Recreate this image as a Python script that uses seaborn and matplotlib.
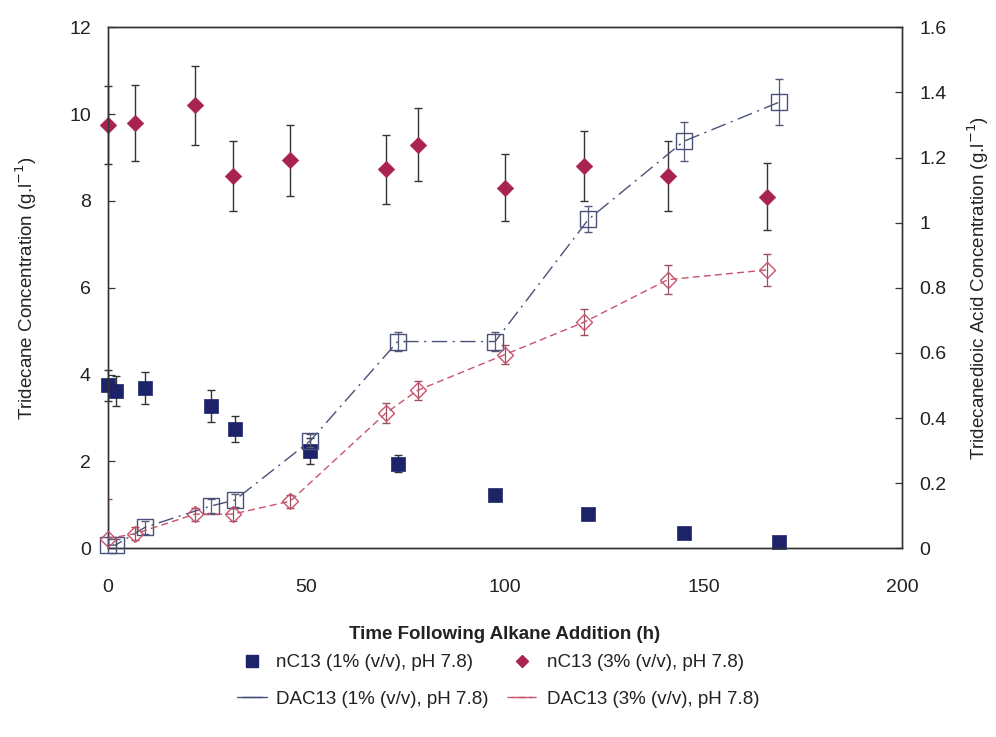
import numpy as np
import pandas as pd
import matplotlib
matplotlib.use("Agg")
import matplotlib.pyplot as plt
from matplotlib.lines import Line2D
from matplotlib.ticker import FuncFormatter
import seaborn as sns

# ---------------- data ----------------
t_1 = [0, 2, 9.5, 26, 32, 51, 73, 97.5, 121, 145, 169]
nc13_1 = [3.75, 3.62, 3.70, 3.28, 2.75, 2.25, 1.95, 1.22, 0.80, 0.35, 0.15]
nc13_1_err = [0.35, 0.35, 0.37, 0.37, 0.30, 0.30, 0.20, 0.05, 0.05, 0.05, 0.05]
dac13_1 = [0.01, 0.01, 0.065, 0.13, 0.148, 0.33, 0.635, 0.635, 1.01, 1.25, 1.37]
dac13_1_err = [0.02, 0.02, 0.02, 0.02, 0.02, 0.02, 0.03, 0.03, 0.04, 0.06, 0.07]

t_3 = [0, 7, 22, 31.5, 46, 70, 78, 100, 120, 141, 166]
nc13_3 = [9.75, 9.80, 10.20, 8.57, 8.94, 8.73, 9.30, 8.30, 8.80, 8.57, 8.10]
nc13_3_err = [0.90, 0.87, 0.90, 0.80, 0.82, 0.80, 0.85, 0.77, 0.80, 0.80, 0.77]
dac13_3 = [0.03, 0.045, 0.105, 0.105, 0.145, 0.415, 0.485, 0.595, 0.695, 0.825, 0.855]
dac13_3_err = [0.12, 0.02, 0.02, 0.02, 0.02, 0.03, 0.03, 0.03, 0.04, 0.045, 0.05]

labels = ["nC13 (1% (v/v), pH 7.8)", "nC13 (3% (v/v), pH 7.8)",
          "DAC13 (1% (v/v), pH 7.8)", "DAC13 (3% (v/v), pH 7.8)"]
x_ticks = [0, 50, 100, 150, 200]
yl_ticks = [0, 2, 4, 6, 8, 10, 12]
yr_ticks = [0, 0.2, 0.4, 0.6, 0.8, 1.0, 1.2, 1.4, 1.6]

# ---------------- style ----------------
sns.set_style("white")
plt.rcParams["font.family"] = ["Liberation Sans", "DejaVu Sans"]
plt.rcParams["axes.linewidth"] = 1.0

navy = "#1c2368"
crimson = "#a8244f"
slate = "#4a5178"
rose = "#c8546c"
txt = "#222222"

fig = plt.figure(figsize=(9.96, 7.37), dpi=100)
ax = fig.add_axes([0.108, 0.256, 0.798, 0.707])
ax2 = ax.twinx()

df1 = pd.DataFrame({"t": t_1, "nc": nc13_1, "dac": dac13_1})
df3 = pd.DataFrame({"t": t_3, "nc": nc13_3, "dac": dac13_3})

# left axis: tridecane
for tt, yy, ee in [(t_1, nc13_1, nc13_1_err), (t_3, nc13_3, nc13_3_err)]:
    eb = ax.errorbar(tt, yy, yerr=ee, fmt="none", ecolor="#333333",
                     elinewidth=1.0, capsize=3, zorder=2)
    for art in eb.lines[1] + eb.lines[2]:
        art.set_clip_on(False)
sns.scatterplot(data=df1, x="t", y="nc", ax=ax, marker="s", s=110,
                color=navy, edgecolor=navy, linewidth=0.5, zorder=3,
                legend=False, clip_on=False)
sns.scatterplot(data=df3, x="t", y="nc", ax=ax, marker="D", s=70,
                color=crimson, edgecolor=crimson, linewidth=0.5, zorder=3,
                legend=False, clip_on=False)

# right axis: tridecanedioic acid
for tt, yy, ee, c in [(t_1, dac13_1, dac13_1_err, "#555a75"),
                      (t_3, dac13_3, dac13_3_err, "#9a5060")]:
    ax2.errorbar(tt, yy, yerr=ee, fmt="none", ecolor=c,
                 elinewidth=0.9, capsize=3, zorder=2)
sns.lineplot(data=df1, x="t", y="dac", ax=ax2, color=slate, linewidth=1.0,
             marker="s", markersize=11, markerfacecolor="none",
             markeredgecolor=slate, markeredgewidth=1.0, zorder=3, clip_on=False)
ax2.lines[-1].set_dashes((11, 4, 1.5, 4))
sns.lineplot(data=df3, x="t", y="dac", ax=ax2, color=rose, linewidth=1.0,
             marker="D", markersize=8, markerfacecolor="none",
             markeredgecolor=rose, markeredgewidth=1.0, zorder=3, clip_on=False)
ax2.lines[-1].set_dashes((5, 3))

# axes limits & ticks
ax.set_xlim(0, 200)
ax.set_ylim(0, 12)
ax2.set_ylim(0, 1.6)
ax.set_xticks(x_ticks)
ax.set_yticks(yl_ticks)
ax2.set_yticks(yr_ticks)
fmt = FuncFormatter(lambda v, p: "%g" % v)
ax.yaxis.set_major_formatter(fmt)
ax2.yaxis.set_major_formatter(fmt)
for a in (ax, ax2):
    a.tick_params(direction="in", length=5, width=0.9, labelsize=14,
                  colors="#333333", labelcolor=txt, pad=12)
    for s in a.spines.values():
        s.set_color("#333333")
        s.set_linewidth(1.0)
ax.tick_params(axis="x", pad=22)

ax.set_xlabel("Time Following Alkane Addition (h)", fontsize=13.5,
              fontweight="bold", color=txt, labelpad=22)
ax.set_ylabel("Tridecane Concentration (g.l$^{-1}$)", fontsize=13.5,
              color=txt, labelpad=22)
ax2.set_ylabel("Tridecanedioic Acid Concentration (g.l$^{-1}$)", fontsize=13.5,
               color=txt, labelpad=14)

# legend
h_nc1 = Line2D([], [], linestyle="none", marker="s", markersize=8,
               color=navy)
h_nc3 = Line2D([], [], linestyle="none", marker="D", markersize=6,
               color=crimson)
h_dac1 = Line2D([], [], color=slate, linewidth=1.0, marker="_", markersize=14,
                markeredgecolor=slate)
h_dac3 = Line2D([], [], color=rose, linewidth=1.0, linestyle=(0, (5, 3)),
                marker="_", markersize=14, markeredgecolor=rose)
fig.legend([h_nc1, h_dac1, h_nc3, h_dac3],
           [labels[0], labels[2], labels[1], labels[3]],
           loc="center", bbox_to_anchor=(0.5, 0.076), ncol=2, frameon=False,
           fontsize=13.5, handlelength=1.6, handletextpad=0.5,
           columnspacing=1.0, labelspacing=1.05, labelcolor=txt)

fig.savefig("out.png", dpi=100, facecolor="white")
